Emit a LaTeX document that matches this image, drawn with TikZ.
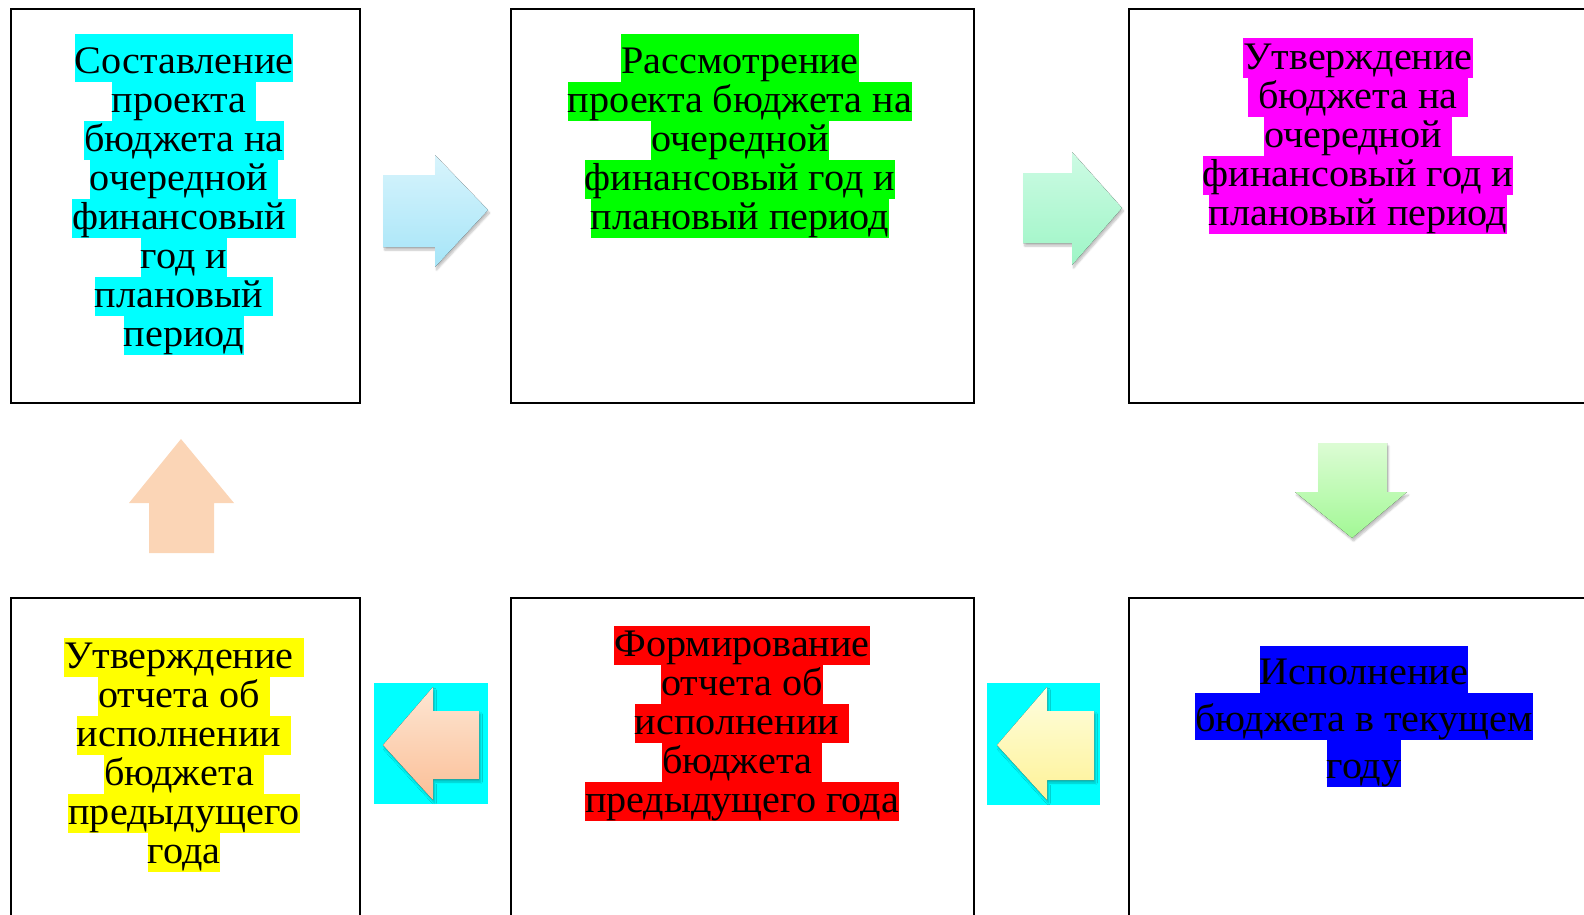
\documentclass[tikz,border=0pt]{standalone}
\usepackage{fontspec}
\setmainfont{Liberation Serif}[FakeStretch=1.03]
\usetikzlibrary{shadows.blur}

\definecolor{hlcyan}{RGB}{0,255,255}
\definecolor{hlgreen}{RGB}{0,255,0}
\definecolor{hlmagenta}{RGB}{255,0,255}
\definecolor{hlyellow}{RGB}{255,255,0}
\definecolor{hlred}{RGB}{255,0,0}
\definecolor{hlblue}{RGB}{0,0,255}
\definecolor{peach}{RGB}{251,213,182}

% highlighted line: [height above baseline]{colour}{text}
\newcommand{\hl}[3][30pt]{{\setlength{\fboxsep}{0pt}%
  \colorbox{#2}{\rule[-9pt]{0pt}{9pt}\rule{0pt}{#1}#3}}}

\tikzset{
  stage/.style={draw=black, line width=2pt, fill=white, inner sep=0pt},
  stagetext/.style={anchor=north, align=center, inner sep=0pt,
    font={\fontsize{39}{39}\selectfont\lineskip=0pt\relax\lineskiplimit=0pt\relax}},
  blockarrow/.style={blur shadow={shadow xshift=1.5pt, shadow yshift=-3pt,
    shadow opacity=25, shadow blur steps=6}}
}

\begin{document}
\begin{tikzpicture}[x=1pt,y=-1pt]
  \useasboundingbox (0,0) rectangle (1584,914);
  \clip (0,0) rectangle (1584,914);

  % stages, top row
  \node[stage, minimum width=349pt, minimum height=394pt] (sost) at (185.5,206) {};
  \node[stage, minimum width=463pt, minimum height=394pt] (rass) at (742.5,206) {};
  \node[stage, minimum width=456pt, minimum height=394pt] (utvB) at (1357,206) {};
  % stages, bottom row
  \node[stage, minimum width=349pt, minimum height=394pt] (utvO) at (185.5,795) {};
  \node[stage, minimum width=463pt, minimum height=394pt] (form) at (742.5,795) {};
  \node[stage, minimum width=456pt, minimum height=394pt] (isp) at (1357,795) {};

  \node[stagetext] (sostText) at (184,34) {\hl[39pt]{hlcyan}{Составление}\\
    \hl{hlcyan}{проекта\ }\\ \hl{hlcyan}{бюджета на}\\ \hl{hlcyan}{очередной\ }\\
    \hl{hlcyan}{финансовый\ }\\ \hl{hlcyan}{год и}\\ \hl{hlcyan}{плановый\ }\\
    \hl{hlcyan}{период}};
  \node[stagetext] (rassText) at (740,34) {\hl[39pt]{hlgreen}{Рассмотрение}\\
    \hl{hlgreen}{проекта бюджета на}\\ \hl{hlgreen}{очередной}\\
    \hl{hlgreen}{финансовый год и}\\ \hl{hlgreen}{плановый период}};
  \node[stagetext] (utvBText) at (1358,38) {\hl[31pt]{hlmagenta}{Утверждение}\\
    \hl{hlmagenta}{\ бюджета на\ }\\ \hl{hlmagenta}{очередной\ }\\
    \hl{hlmagenta}{финансовый год и}\\ \hl{hlmagenta}{плановый период}};
  \node[stagetext] (utvOText) at (184,638) {\hl{hlyellow}{Утверждение\ }\\
    \hl{hlyellow}{отчета об\ }\\ \hl{hlyellow}{исполнении\ }\\
    \hl{hlyellow}{бюджета\ }\\ \hl{hlyellow}{предыдущего}\\ \hl{hlyellow}{года}};
  \node[stagetext] (formText) at (742,626) {\hl{hlred}{Формирование}\\
    \hl{hlred}{отчета об}\\ \hl{hlred}{исполнении\ }\\ \hl{hlred}{бюджета\ }\\
    \hl{hlred}{предыдущего года}};
  \node[stagetext] (ispText) at (1364,646) {\hl[38pt]{hlblue}{Исполнение}\\
    \hl[38pt]{hlblue}{бюджета в текущем}\\ \hl[38pt]{hlblue}{году}};

  % arrows between the stages
  \fill[blockarrow, top color={rgb,255:red,216;green,244;blue,252},
    bottom color={rgb,255:red,166;green,229;blue,248}]
    (383,175) -- (435,175) -- (435,155) -- (488,210) -- (435,267)
    -- (435,247) -- (383,247) -- cycle;
  \fill[blockarrow, top color={rgb,255:red,205;green,251;blue,228},
    bottom color={rgb,255:red,158;green,245;blue,198}]
    (1023,173) -- (1072,173) -- (1072,152) -- (1122,208) -- (1072,265)
    -- (1072,243) -- (1023,243) -- cycle;
  \fill[blockarrow, top color={rgb,255:red,220;green,252;blue,212},
    bottom color={rgb,255:red,162;green,248;blue,149}]
    (1318,443) -- (1387,443) -- (1387,492) -- (1407,492) -- (1352,538)
    -- (1295,492) -- (1318,492) -- cycle;
  \fill[peach]
    (181,439) -- (234,503) -- (214,503) -- (214,553) -- (149,553)
    -- (149,503) -- (129,503) -- cycle;

  \fill[hlcyan] (374,683) rectangle (488,804);
  \fill[blockarrow, top color={rgb,255:red,253;green,230;blue,211},
    bottom color={rgb,255:red,251;green,191;blue,151}]
    (383,745) -- (433,687) -- (433,711) -- (479,711) -- (479,779)
    -- (433,779) -- (433,800) -- cycle;
  \fill[hlcyan] (987,683) rectangle (1100,805);
  \fill[blockarrow, top color={rgb,255:red,254;green,254;blue,224},
    bottom color={rgb,255:red,254;green,242;blue,150}]
    (997,745) -- (1047,687) -- (1047,711) -- (1094,711) -- (1094,780)
    -- (1047,780) -- (1047,800) -- cycle;
\end{tikzpicture}
\end{document}
